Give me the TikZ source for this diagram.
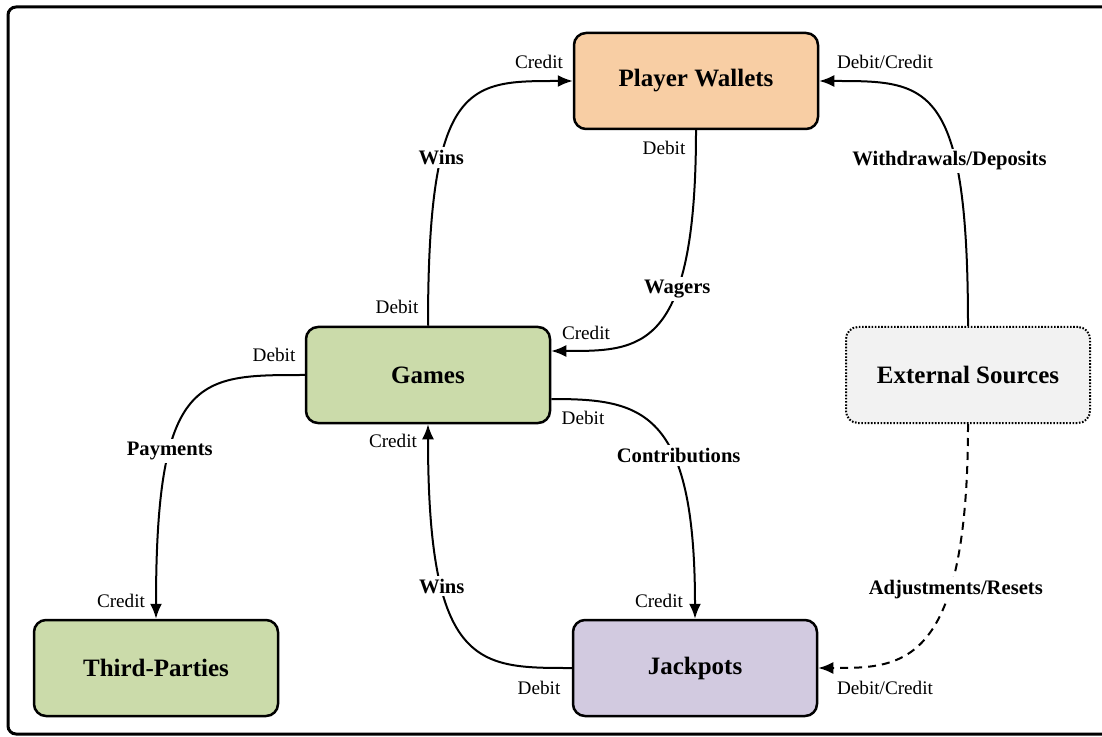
\documentclass[tikz,border=0pt]{standalone}
\usepackage{fontspec}
\setmainfont{Liberation Serif}
\usetikzlibrary{arrows.meta, positioning}

\definecolor{walletfill}{RGB}{248,206,164}
\definecolor{gamesfill}{RGB}{203,219,170}
\definecolor{jackfill}{RGB}{210,202,224}
\definecolor{extfill}{RGB}{242,242,242}

\begin{document}
\begin{tikzpicture}[
    x=0.5pt, y=-0.5pt,
    account/.style={draw, line width=1.25pt, rounded corners=6pt,
        minimum width=122pt, minimum height=48pt,
        font=\fontsize{12.5}{14}\selectfont\bfseries},
    flow/.style={fill=white, inner sep=1.5pt,
        font=\fontsize{10.3}{12}\selectfont\bfseries},
    side/.style={inner sep=0pt, font=\fontsize{9.6}{11}\selectfont},
    link/.style={line width=1pt, -{Latex[length=7.5pt, width=6pt]}}
]

\useasboundingbox (0,0) rectangle (1102,737);
\clip (0,0) rectangle (1102,737);
\draw[line width=1.5pt, rounded corners=4pt] (8,7) rectangle (1112,734);

\node[account, fill=walletfill] (pw) at (696,81) {Player Wallets};
\node[account, fill=gamesfill] (g) at (428,375) {Games};
\node[account, fill=extfill, line width=1pt, dash pattern=on 0.8pt off 0.8pt] (es) at (968,375) {External Sources};
\node[account, fill=gamesfill] (tp) at (156,668) {Third-Parties};
\node[account, fill=jackfill] (jp) at (695,668) {Jackpots};

% flows between accounts
\draw[link] (g.north) .. controls +(0,-246) and +(-104,0) .. (pw.west)
    node[flow, pos=0.32] (winspw) {Wins};
\draw[link] (pw.south) .. controls +(0,222) and +(89,0) .. ([yshift=12pt]g.east)
    node[flow, pos=0.343] (wagers) {Wagers};
\draw[link] (es.north) .. controls +(0,-246) and +(108,0) .. (pw.east)
    node[flow, pos=0.31, xshift=-3pt] (withdraw) {Withdrawals/Deposits};
\draw[link] (g.west) .. controls +(-106,0) and +(0,-245) .. (tp.north)
    node[flow, pos=0.68] (payments) {Payments};
\draw[link] ([yshift=-12pt]g.east) .. controls +(90,0) and +(0,-210) .. (jp.north)
    node[flow, pos=0.62, xshift=3pt] (contrib) {Contributions};
\draw[link] (jp.west) .. controls +(-93,0) and +(0,245) .. (g.south)
    node[flow, pos=0.697] (winsjp) {Wins};
\draw[link, dash pattern=on 4pt off 3pt] (es.south) .. controls +(0,245) and +(83,0) .. (jp.east)
    node[flow, pos=0.314, xshift=3pt] (adjust) {Adjustments/Resets};

% debit/credit marks
\node[side] (pwcr1) at (539,62) {Credit};
\node[side] (pwcr2) at (885,62) {Debit/Credit};
\node[side] (pwdb) at (664,148) {Debit};
\node[side] (gdb1) at (397,307) {Debit};
\node[side] (gcr1) at (586,333) {Credit};
\node[side] (gdb2) at (274,355) {Debit};
\node[side] (gdb3) at (583,418) {Debit};
\node[side] (gcr2) at (393,441) {Credit};
\node[side] (tpcr) at (121,601) {Credit};
\node[side] (jpcr) at (659,601) {Credit};
\node[side] (jpdb) at (539,688) {Debit};
\node[side] (jpcr2) at (885,688) {Debit/Credit};

\end{tikzpicture}
\end{document}
